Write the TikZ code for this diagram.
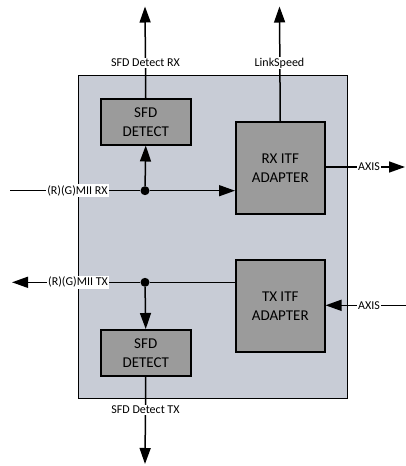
\documentclass[tikz,border=0pt]{standalone}
\usepackage{fontspec}
\setmainfont{Carlito}
\usetikzlibrary{calc,positioning,arrows.meta}

\definecolor{corebg}{RGB}{200,204,214}
\definecolor{blockgray}{RGB}{155,155,155}

\begin{document}
\begin{tikzpicture}[x=1pt,y=-1pt, line cap=butt, line join=miter]

% ---------- styles ----------
\tikzset{
  core/.style={draw, fill=corebg, line width=1.2pt, anchor=north west, inner sep=0pt},
  blk/.style={draw, fill=blockgray, line width=1.5pt, anchor=north west, align=center,
              inner sep=0pt, font=\fontsize{15}{19}\selectfont},
  sig/.style={line width=1.5pt},
  arr/.style={sig, -{Triangle[length=16pt,width=11pt]}},
  lbl/.style={fill=white, inner sep=1pt, font=\fontsize{12}{14}\selectfont},
  jdot/.style={circle, fill, inner sep=0pt, minimum size=9pt},
}

\useasboundingbox (0,0) rectangle (406,466);

% ---------- outer block ----------
\node[core, minimum width=269pt, minimum height=323pt] (core) at (78,75) {};

% ---------- inner blocks ----------
\node[blk, minimum width=90pt, minimum height=46pt] (sfdrx) at (100,98) {SFD\\DETECT};
\node[blk, minimum width=89pt, minimum height=92pt] (rxadp) at (235,121) {RX ITF\\ADAPTER};
\node[blk, minimum width=89pt, minimum height=92pt] (txadp) at (235,259) {TX ITF\\ADAPTER};
\node[blk, minimum width=90pt, minimum height=46pt] (sfdtx) at (100,329) {SFD\\DETECT};

% ---------- end points ----------
\coordinate (rxin)     at (10,190.7);
\coordinate (txout)    at (12,282.3);
\coordinate (sfdrxout) at (145,6.5);
\coordinate (linkout)  at (279.5,6.5);
\coordinate (axisrx)   at (405,167);
\coordinate (axistx)   at (406,305.3);
\coordinate (sfdtxout) at (145,464);

% junction dots
\node[jdot] (rxdot) at (145,190.7) {};
\node[jdot] (txdot) at (145,282.3) {};

% ---------- RX path ----------
\draw[sig] (rxin) -- (rxdot);
\draw[arr] (rxdot) -- (rxadp.west |- rxdot);
\draw[arr] (rxdot) -- (sfdrx.south);
\draw[arr] (sfdrx.north) -- (sfdrxout);
\draw[arr] (rxadp.north) -- (linkout);
\draw[arr] (rxadp.east |- axisrx) -- (axisrx);

% ---------- TX path ----------
\draw[sig] (txadp.west |- txdot) -- (txdot);
\draw[arr] (txdot) -- (txout);
\draw[arr] (txdot) -- (sfdtx.north);
\draw[arr] (sfdtx.south) -- (sfdtxout);
\draw[arr] (axistx) -- (txadp.east |- axistx);

% ---------- signal labels ----------
\node[lbl] (lrx)    at (77.5,190.7) {(R)(G)MII RX};
\node[lbl] (ltx)    at (78,282.3)   {(R)(G)MII TX};
\node[lbl] (lsfdrx) at (145.5,63)   {SFD Detect RX};
\node[lbl] (llink)  at (279.5,63)   {LinkSpeed};
\node[lbl] (laxrx)  at (369,167)    {AXIS};
\node[lbl] (laxtx)  at (369,305.3)  {AXIS};
\node[lbl] (lsfdtx) at (145.5,410)  {SFD Detect TX};

\end{tikzpicture}
\end{document}
